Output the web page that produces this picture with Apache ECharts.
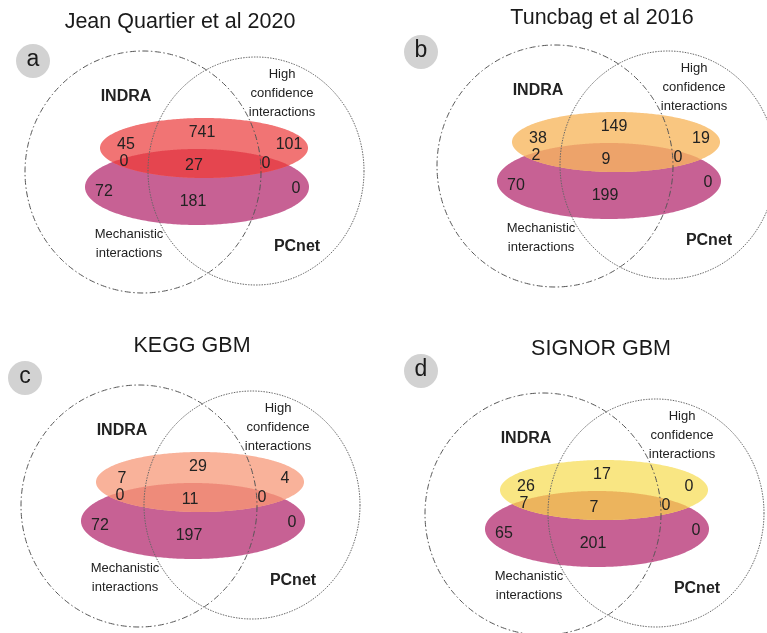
<!DOCTYPE html>
<html>
<head>
<meta charset="utf-8">
<script src="https://cdn.jsdelivr.net/npm/echarts@6/dist/echarts.min.js"></script>
<style>
  html, body { margin: 0; padding: 0; background: #ffffff; }
  #chart { width: 767px; height: 633px; }
</style>
</head>
<body>
<div id="chart"></div>
<script>
// ---- data -------------------------------------------------------------
const panelTitles = ['Jean Quartier et al 2020', 'Tuncbag et al 2016', 'KEGG GBM', 'SIGNOR GBM'];
const panelTags = ['a', 'b', 'c', 'd'];
const setNames = ['INDRA', 'High\nconfidence\ninteractions', 'Mechanistic\ninteractions', 'PCnet'];

// Region counts, row by row:
//   high-confidence only : INDRA only, INDRA & PCnet, PCnet only
//   both subsets         : INDRA only, INDRA & PCnet, PCnet only
//   mechanistic only     : INDRA only, INDRA & PCnet, PCnet only
const countsA = [45, 741, 101, 0, 27, 0, 72, 181, 0];
const countsB = [38, 149, 19, 2, 9, 0, 70, 199, 0];
const countsC = [7, 29, 4, 0, 11, 0, 72, 197, 0];
const countsD = [26, 17, 0, 7, 7, 0, 65, 201, 0];
const panelCounts = [countsA, countsB, countsC, countsD];

// ---- layout & style ---------------------------------------------------
// pixel position of each panel's high-confidence ellipse centre
const panelAnchors = [[204, 148], [616, 142], [200, 482], [604, 490]];
const titlePos = [[180, 22], [602, 18], [192, 346], [601, 349]];
const tagPos = [[33, 61], [421, 52], [25, 378], [421, 371]];

const highColors = ['#f17474', '#f9c680', '#f9b29a', '#f9e683'];
const overlapColors = ['#e5454f', '#eda36a', '#ee8b7a', '#ecb45d'];
const mechColor = '#c76194';

// shape template in panel units (1 unit = 1 px), relative to the high-confidence ellipse centre
const shapes = {
  indra: { cx: -61, cy: 24, rx: 118, ry: 121 },
  pcnet: { cx: 52, cy: 23, rx: 108, ry: 114 },
  high:  { cx: 0,   cy: 0,  rx: 104, ry: 30 },
  mech:  { cx: -7,  cy: 39, rx: 112, ry: 38 }
};
const shapeOrder = ['mech', 'high', 'overlap', 'indra', 'pcnet'];
const countSlots = [[-78, -3], [-2, -15], [85, -3], [-80, 14], [-10, 18], [62, 16], [-100, 44], [-11, 54], [92, 41]];
const nameSlots = [[-78, -51], [78, -55], [-75, 96], [93, 99]];
const nameBold = [true, false, false, true];

// axis window of each panel (kept inside the canvas so the grid is never squeezed)
const X_MIN = -200, X_MAX = 150, Y_MIN = -140, Y_MAX = 140;
const FONT = '"Liberation Sans", Arial, Helvetica, sans-serif';

function ellipsePts(api, e, n) {
  const c = api.coord([e.cx, e.cy]);
  const s = api.size([e.rx, e.ry]);
  const rx = Math.abs(s[0]), ry = Math.abs(s[1]);
  const pts = [];
  for (let i = 0; i < n; i++) {
    const t = (2 * Math.PI * i) / n;
    pts.push([c[0] + rx * Math.cos(t), c[1] + ry * Math.sin(t)]);
  }
  return { pts, c, rx, ry };
}

function inside(p, el) {
  const dx = (p[0] - el.c[0]) / el.rx, dy = (p[1] - el.c[1]) / el.ry;
  return dx * dx + dy * dy <= 1;
}

// lens shared by the two subset ellipses
function overlapPts(api, a, b) {
  const ea = ellipsePts(api, a, 720), eb = ellipsePts(api, b, 720);
  const pts = ea.pts.filter(p => inside(p, eb)).concat(eb.pts.filter(p => inside(p, ea)));
  let mx = 0, my = 0;
  pts.forEach(p => { mx += p[0]; my += p[1]; });
  mx /= pts.length; my /= pts.length;
  pts.sort((p, q) => Math.atan2(p[1] - my, p[0] - mx) - Math.atan2(q[1] - my, q[0] - mx));
  return pts;
}

function shapeRenderer(i) {
  return function (params, api) {
    const kind = shapeOrder[params.dataIndex];
    if (kind === 'overlap') {
      return { type: 'polygon', shape: { points: overlapPts(api, shapes.high, shapes.mech) },
               style: { fill: overlapColors[i] } };
    }
    const e = ellipsePts(api, shapes[kind], 360);
    if (kind === 'mech') return { type: 'polygon', shape: { points: e.pts }, style: { fill: mechColor } };
    if (kind === 'high') return { type: 'polygon', shape: { points: e.pts }, style: { fill: highColors[i] } };
    if (kind === 'indra') {
      return { type: 'polygon', shape: { points: e.pts },
               style: { fill: 'none', stroke: '#555555', lineWidth: 1, lineDash: [6, 2.5, 1.5, 2.5] } };
    }
    return { type: 'polygon', shape: { points: e.pts },
             style: { fill: 'none', stroke: '#666666', lineWidth: 1, lineDash: [1.5, 1.2] } };
  };
}

function textEl(p, text, font) {
  return {
    type: 'text', x: p[0], y: p[1],
    style: { text: text, font: font, fill: '#222222', align: 'center', verticalAlign: 'middle',
             textAlign: 'center', textVerticalAlign: 'middle', lineHeight: 19 }
  };
}

const grids = [], xAxes = [], yAxes = [], series = [], graphics = [];

panelAnchors.forEach((a, i) => {
  grids.push({ left: a[0] + X_MIN, top: a[1] + Y_MIN, width: X_MAX - X_MIN, height: Y_MAX - Y_MIN });
  xAxes.push({ gridIndex: i, type: 'value', min: X_MIN, max: X_MAX, show: false });
  yAxes.push({ gridIndex: i, type: 'value', min: Y_MIN, max: Y_MAX, inverse: true, show: false });

  series.push({
    type: 'custom', xAxisIndex: i, yAxisIndex: i, clip: false, silent: true,
    renderItem: shapeRenderer(i),
    data: shapeOrder.map(k => k === 'overlap' ? [0, 0] : [shapes[k].cx, shapes[k].cy])
  });

  series.push({
    type: 'custom', xAxisIndex: i, yAxisIndex: i, clip: false, silent: true,
    renderItem: (params, api) => {
      const p = api.coord([api.value(0), api.value(1)]);
      const idx = api.value(2);
      return textEl(p, setNames[idx], (nameBold[idx] ? 'bold 16px ' : '13px ') + FONT);
    },
    data: nameSlots.map((s, k) => [s[0], s[1], k])
  });

  series.push({
    type: 'custom', xAxisIndex: i, yAxisIndex: i, clip: false, silent: true,
    renderItem: (params, api) => {
      const p = api.coord([api.value(0), api.value(1)]);
      return textEl(p, String(api.value(2)), '16px ' + FONT);
    },
    data: countSlots.map((s, k) => [s[0], s[1], panelCounts[i][k]])
  });

  graphics.push({
    type: 'text', x: titlePos[i][0], y: titlePos[i][1],
    style: { text: panelTitles[i], font: '21.5px ' + FONT, fill: '#1a1a1a',
             align: 'center', verticalAlign: 'middle', textAlign: 'center', textVerticalAlign: 'middle' }
  });
  graphics.push({
    type: 'circle', shape: { cx: tagPos[i][0], cy: tagPos[i][1], r: 17 },
    style: { fill: '#d2d2d2' }
  });
  graphics.push({
    type: 'text', x: tagPos[i][0], y: tagPos[i][1] - 1,
    style: { text: panelTags[i], font: '23px ' + FONT, fill: '#1a1a1a',
             align: 'center', verticalAlign: 'middle', textAlign: 'center', textVerticalAlign: 'middle' }
  });
});

const chart = echarts.init(document.getElementById('chart'), null, { renderer: 'canvas' });
chart.setOption({
  animation: false,
  backgroundColor: '#ffffff',
  grid: grids,
  xAxis: xAxes,
  yAxis: yAxes,
  series: series,
  graphic: { elements: graphics }
});
</script>
</body>
</html>
